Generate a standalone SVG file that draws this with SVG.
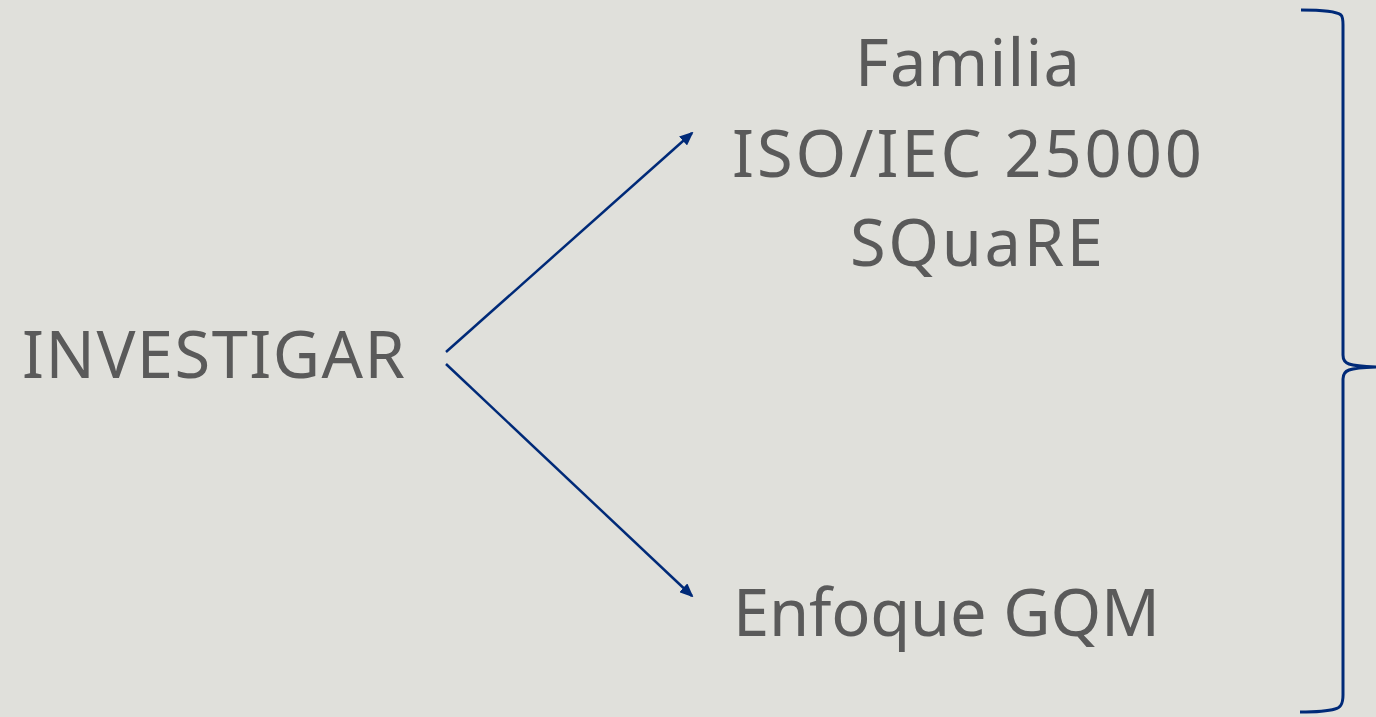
<svg xmlns="http://www.w3.org/2000/svg" width="1376" height="717" viewBox="0 0 1376 717">
<style>
.t{font-family:"Noto Sans","DejaVu Sans",sans-serif;font-size:65px;fill:#5a5a5a;}
.c{stroke:#002a78;stroke-width:2.5;fill:none;}
.b{stroke:#002a78;stroke-width:3;fill:none;}
</style>
<defs>
<marker id="a" markerWidth="14" markerHeight="12" refX="12" refY="6" orient="auto" markerUnits="userSpaceOnUse">
<path d="M0,0 L14,6 L0,12 z" fill="#002a78"/>
</marker>
</defs>
<rect width="1376" height="717" fill="#e0e0db"/>
<g id="investigar"><text class="t" x="22" y="378" textLength="383" lengthAdjust="spacing">INVESTIGAR</text></g>
<g id="familia">
<text class="t" x="855" y="86" textLength="225" lengthAdjust="spacing">Familia</text>
<text class="t" x="732" y="177" textLength="470" lengthAdjust="spacing">ISO/IEC 25000</text>
<text class="t" x="850" y="266" textLength="253" lengthAdjust="spacing">SQuaRE</text>
</g>
<g id="gqm"><text class="t" x="733" y="636" textLength="427" lengthAdjust="spacing">Enfoque GQM</text></g>
<g id="connectors">
<line class="c" x1="446" y1="352" x2="692" y2="133" marker-end="url(#a)"/>
<line class="c" x1="446" y1="364" x2="692" y2="596" marker-end="url(#a)"/>
</g>
<g id="brace">
<path class="b" d="M1301,10 C1320,10 1336,11 1341,15 C1343,17 1343,20 1343,25 L1343,355 C1343,364 1348,366 1376,367 C1348,368 1343,370 1343,379 L1343,695 C1343,705 1340,708 1335,709 C1325,712 1310,712 1300,712"/>
</g>
</svg>
